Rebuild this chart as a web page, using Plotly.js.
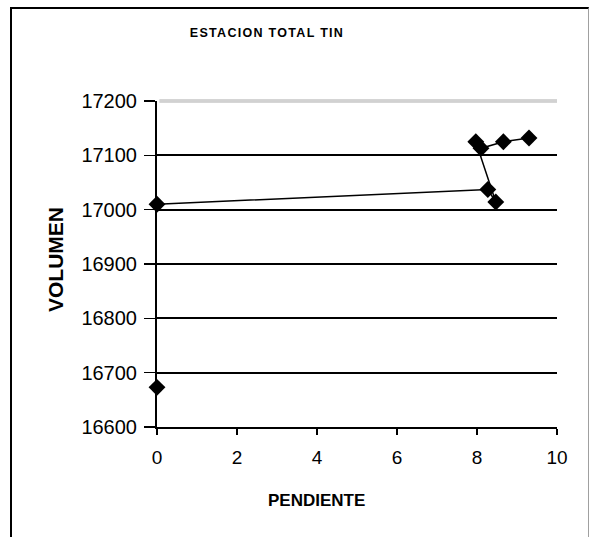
<!DOCTYPE html>
<html>
<head>
<meta charset="utf-8">
<script src="https://cdn.plot.ly/plotly-3.0.1.min.js"></script>
<style>
html,body{margin:0;padding:0;background:#fff;}
#wrap{position:relative;width:590px;height:537px;overflow:hidden;}
#chart{width:590px;height:537px;}
#frame{position:absolute;left:10px;top:7px;width:579px;height:560px;
  border-left:2px solid #000;border-top:2px solid #000;border-right:1.5px solid #a0a0a0;
  pointer-events:none;box-sizing:border-box;z-index:10;}
</style>
</head>
<body>
<div id="wrap">
<div id="chart"></div>
<div id="frame"></div>
</div>
<script>
// Data (PENDIENTE vs VOLUMEN)
// isolated point on the axis
var pendienteSolo = [0];
var volumenSolo   = [16673];
// connected series
var pendiente = [0, 8.27, 8.47, 7.97, 8.10, 8.66, 9.30];
var volumen   = [17010, 17037, 17014, 17125, 17113, 17125, 17132];

var chartTitle = 'ESTACION TOTAL TIN';
var xTitle = 'PENDIENTE';
var yTitle = 'VOLUMEN';
var xTicks = [0, 2, 4, 6, 8, 10];
var yTicks = [16600, 16700, 16800, 16900, 17000, 17100, 17200];

var FONT = 'Liberation Sans, Arial, sans-serif';
var marker = {symbol: 'diamond', size: 13, color: '#000'};

var traces = [
  {x: pendiente, y: volumen, type: 'scatter', mode: 'lines+markers',
   line: {color: '#000', width: 1.5}, marker: marker, cliponaxis: false},
  {x: pendienteSolo, y: volumenSolo, type: 'scatter', mode: 'markers',
   marker: marker, cliponaxis: false}
];

var layout = {
  width: 590, height: 537,
  margin: {l: 157, r: 33, t: 101, b: 110},
  paper_bgcolor: '#fff', plot_bgcolor: '#fff', showlegend: false,
  font: {family: FONT, color: '#000'},
  title: {
    text: '<b>' + chartTitle + '</b>',
    font: {family: FONT, size: 12.5, color: '#000'},
    xref: 'container', x: 267 / 590, xanchor: 'center',
    yref: 'container', y: 1 - 33 / 537, yanchor: 'middle'
  },
  xaxis: {
    range: [0, 10], tickvals: xTicks, ticktext: xTicks.map(String),
    showgrid: false, zeroline: false,
    showline: true, linecolor: '#000', linewidth: 2,
    ticks: 'outside', ticklen: 6, tickwidth: 1.5, tickcolor: '#000',
    ticklabelstandoff: 6,
    tickfont: {family: FONT, size: 19, color: '#000'}, fixedrange: true
  },
  yaxis: {
    range: [16600, 17200], tickvals: yTicks, ticktext: yTicks.map(String),
    showgrid: true, gridcolor: '#000', gridwidth: 2, zeroline: false,
    showline: true, linecolor: '#000', linewidth: 2,
    ticks: 'outside', ticklen: 11, tickwidth: 1.5, tickcolor: '#000',
    ticklabelstandoff: 3,
    tickfont: {family: FONT, size: 20, color: '#000'}, fixedrange: true
  },
  annotations: [
    {text: '<b>' + xTitle + '</b>', showarrow: false,
     xref: 'paper', x: (316 - 157) / 400, xanchor: 'center',
     yref: 'paper', y: -(500 - 427) / 326, yanchor: 'middle',
     font: {family: FONT, size: 17, color: '#000'}},
    {text: '<b>' + yTitle + '</b>', showarrow: false, textangle: -90,
     xref: 'paper', x: (55 - 157) / 400, xanchor: 'center',
     yref: 'paper', y: 1 - (260 - 101) / 326, yanchor: 'middle',
     font: {family: FONT, size: 21, color: '#000'}}
  ],
  shapes: [
    // light double top border of the plot area
    {type: 'line', xref: 'paper', yref: 'paper', x0: 0.006, x1: 1, y0: 1, y1: 1,
     line: {color: '#ffffff', width: 3}, layer: 'above'},
    {type: 'line', xref: 'paper', yref: 'paper', x0: 0.006, x1: 1, y0: 1.003, y1: 1.003,
     line: {color: '#a8a8a8', width: 1}, layer: 'above'},
    {type: 'line', xref: 'paper', yref: 'paper', x0: 0.006, x1: 1, y0: 0.997, y1: 0.997,
     line: {color: '#a8a8a8', width: 1}, layer: 'above'}
  ]
};

Plotly.newPlot('chart', traces, layout, {displayModeBar: false, staticPlot: true}).then(function () {
  var t = document.querySelector('#chart .gtitle');
  if (t) { t.style.letterSpacing = '1.3px'; }
});
</script>
</body>
</html>
